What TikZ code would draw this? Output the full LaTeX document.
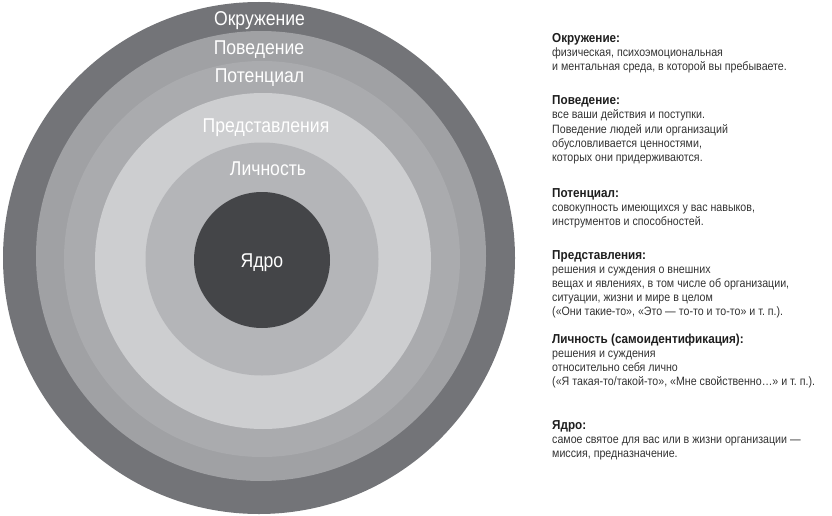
\documentclass[tikz,border=0pt]{standalone}
\usepackage{fontspec}
\setmainfont{Liberation Sans}
\newfontfamily\condfont{Liberation Sans}[FakeStretch=0.88]
\newfontfamily\headfont{Liberation Sans}[FakeStretch=0.9]
\definecolor{ringA}{HTML}{737478}
\definecolor{ringB}{HTML}{A0A1A4}
\definecolor{ringC}{HTML}{AAABAE}
\definecolor{ringD}{HTML}{CDCED0}
\definecolor{ringE}{HTML}{B4B5B8}
\definecolor{ringF}{HTML}{444548}
\definecolor{bodytext}{HTML}{333333}
\definecolor{headtext}{HTML}{1E1E1E}
\tikzset{
  ringlabel/.style={anchor=base, inner sep=0pt, text=white, font=\condfont\fontsize{20}{24}\selectfont},
  descl/.style={anchor=base west, inner sep=0pt, text=bodytext, font=\condfont\fontsize{12.1}{14}\selectfont},
  deschead/.style={anchor=base west, inner sep=0pt, text=headtext, font=\headfont\bfseries\fontsize{13}{14}\selectfont},
}
\newcommand\dline[3]{\node[descl] (#1) at (552,#2) {#3};}
\newcommand\dhead[3]{\node[deschead] (#1) at (552,#2) {#3};}
\begin{document}
\begin{tikzpicture}[x=1pt,y=-1pt]
\useasboundingbox (0,0) rectangle (832,516);
% rings
\fill[ringA] (259,258) circle (256);
\fill[ringB] (261,256) circle (225);
\fill[ringC] (262,259) circle (198);
\fill[ringD] (263,261) circle (168);
\fill[ringE] (262,259) circle (116.5);
\fill[ringF] (262,260) circle (68);
% ring labels
\node[ringlabel] (lEnv) at (259.5,26) {Окружение};
\node[ringlabel] (lBeh) at (259,55) {Поведение};
\node[ringlabel] (lPot) at (259.5,83) {Потенциал};
\node[ringlabel] (lRep) at (266,132) {Представления};
\node[ringlabel] (lPer) at (268,175) {Личность};
\node[ringlabel] (lCore) at (262,267) {Ядро};
% descriptions
\dhead{hEnv}{43}{Окружение:}
\dline{dEnvA}{57}{физическая, психоэмоциональная}
\dline{dEnvB}{71}{и ментальная среда, в которой вы пребываете.}
\dhead{hBeh}{105}{Поведение:}
\dline{dBehA}{119}{все ваши действия и поступки.}
\dline{dBehB}{133}{Поведение людей или организаций}
\dline{dBehC}{147}{обусловливается ценностями,}
\dline{dBehD}{161}{которых они придерживаются.}
\dhead{hPot}{197}{Потенциал:}
\dline{dPotA}{211}{совокупность имеющихся у вас навыков,}
\dline{dPotB}{225}{инструментов и способностей.}
\dhead{hRep}{259}{Представления:}
\dline{dRepA}{273}{решения и суждения о внешних}
\dline{dRepB}{287}{вещах и явлениях, в том числе об организации,}
\dline{dRepC}{301}{ситуации, жизни и мире в целом}
\dline{dRepD}{315}{(«Они такие-то», «Это — то-то и то-то» и т.~п.).}
\dhead{hPer}{343}{Личность (самоидентификация):}
\dline{dPerA}{357}{решения и суждения}
\dline{dPerB}{371}{относительно себя лично}
\dline{dPerC}{385}{(«Я такая-то/такой-то», «Мне свойственно…» и т.~п.).}
\dhead{hCore}{429}{Ядро:}
\dline{dCoreA}{443}{самое святое для вас или в жизни организации —}
\dline{dCoreB}{457}{миссия, предназначение.}
\end{tikzpicture}
\end{document}
